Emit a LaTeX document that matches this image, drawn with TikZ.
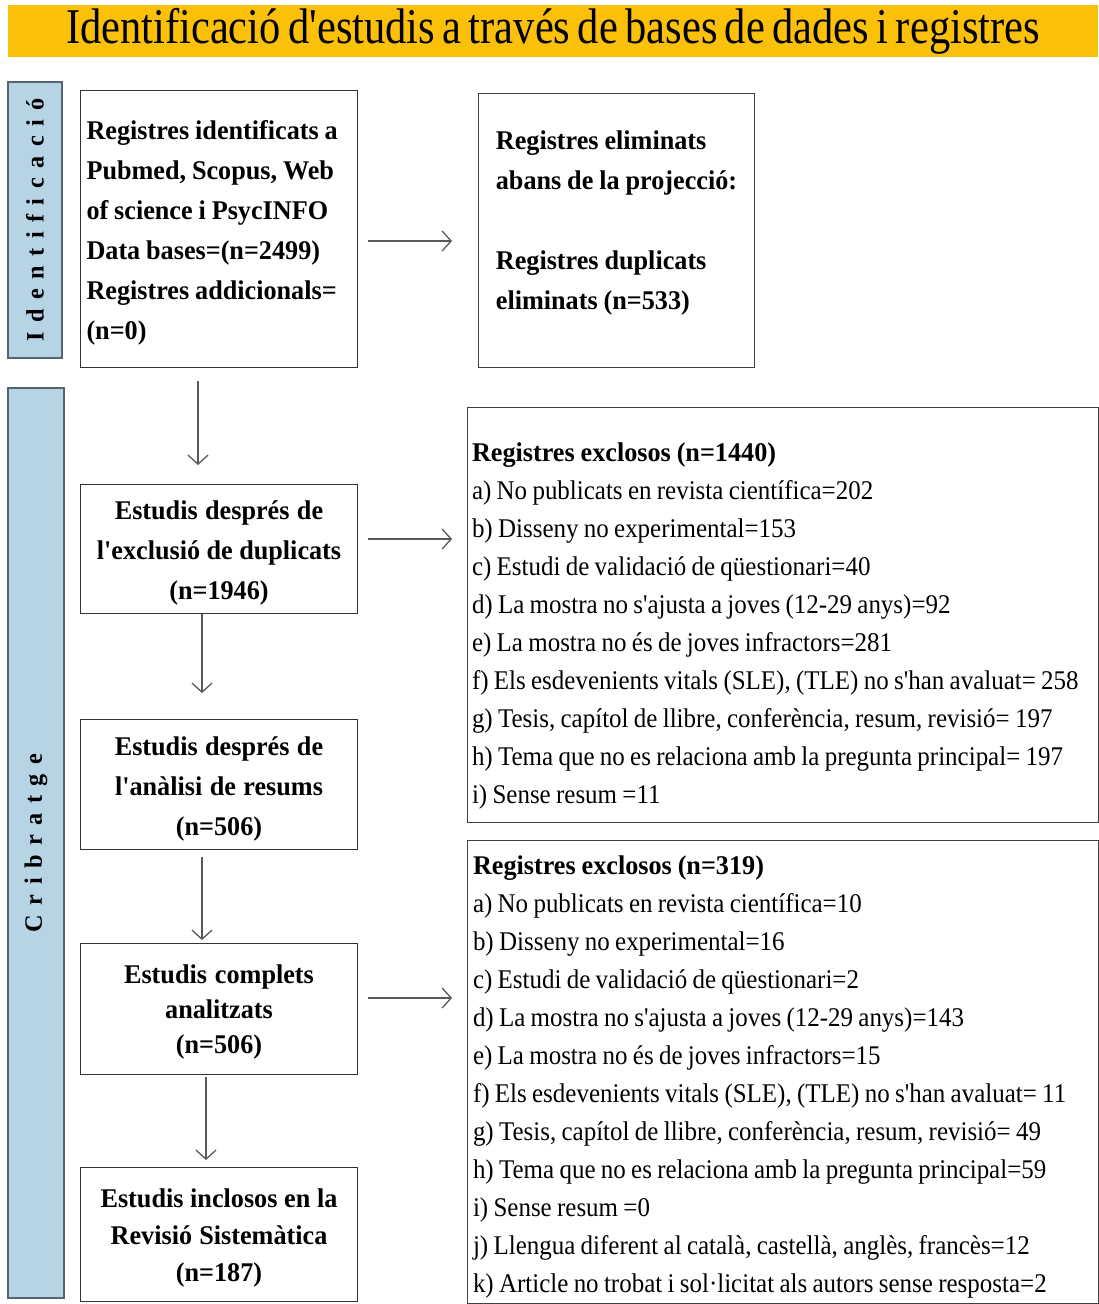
\documentclass[tikz,border=0pt]{standalone}
\usepackage{fontspec}
\setmainfont{Liberation Serif}[Ligatures=TeXOff,FakeStretch=0.925,WordSpace=0.85,
  BoldFeatures={FakeStretch=0.97,WordSpace=0.9}]
\newfontfamily\titlefont{Liberation Serif}[Ligatures=TeXOff,FakeStretch=0.85,WordSpace=0.7]
\usetikzlibrary{arrows.meta}
\definecolor{bannergold}{RGB}{250,192,10}
\definecolor{stagefill}{RGB}{183,212,229}
\definecolor{stageline}{RGB}{85,100,115}
\tikzset{
  stage/.style={draw=stageline,fill=stagefill,line width=1.2pt,inner sep=0pt,rotate=90,
    font=\fontsize{25}{25}\selectfont\bfseries\addfontfeature{LetterSpace=38}},
  flowbox/.style={draw=black!80,line width=1pt,anchor=north west,inner sep=0pt,
    minimum width=277pt,text width=265pt,align=center,font=\fontsize{27}{40}\selectfont\bfseries,
    execute at begin node={\spaceskip=0pt\relax\xspaceskip=0pt\relax}},
  exclbox/.style={draw=black!75,line width=1pt,anchor=north west,inner sep=0pt,
    align=left,font=\fontsize{27}{38}\selectfont,
    execute at begin node={\spaceskip=0pt\relax\xspaceskip=0pt\relax}},
  flowarrow/.style={draw=black!65,line width=1.3pt,-{Straight Barb[length=9pt,width=20pt]}}
}

\begin{document}
\begin{tikzpicture}[x=1pt,y=-1pt]
\useasboundingbox (0,0) rectangle (1098,1304);

% banner and stage bars
\node[fill=bannergold,minimum width=1090pt,minimum height=52pt,inner sep=0pt,
  font=\titlefont\fontsize{50}{50}\selectfont] (title) at (553,31)
  {Identificació d'estudis a través de bases de dades i registres};
\node[stage,minimum width=276pt,minimum height=54pt] (identbar) at (35,220) {Identificació};
\node[stage,minimum width=910pt,minimum height=56pt] (screenbar) at (36,843) {Cribratge};

% left column
\node[flowbox,minimum height=277pt,align=left] (identified) at (80,90)
  {\rule{0pt}{27pt}Registres identificats a\\Pubmed, Scopus, Web\\of science i PsycINFO\\Data bases=(n=2499)\\Registres addicionals=\\(n=0)};
\node[flowbox,minimum height=129pt] (screened) at (80,484)
  {\rule{0pt}{27pt}Estudis després de\\l'exclusió de duplicats\\(n=1946)};
\node[flowbox,minimum height=130pt] (abstracts) at (80,719)
  {\rule{0pt}{28pt}Estudis després de\\l'anàlisi de resums\\(n=506)};
\node[flowbox,minimum height=131pt,font=\fontsize{27}{35}\selectfont\bfseries] (fulltext) at (80,943)
  {\rule{0pt}{25pt}Estudis complets\\analitzats\\(n=506)};
\node[flowbox,minimum height=134pt,font=\fontsize{27}{37}\selectfont\bfseries] (included) at (80,1167)
  {\rule{0pt}{26pt}Estudis inclosos en la\\Revisió Sistemàtica\\(n=187)};

% right column
\node[exclbox,minimum width=276pt,minimum height=274pt,
  font=\fontsize{27}{40}\selectfont\bfseries] (removed) at (478,93)
  {Registres eliminats\\abans de la projecció:\\[40pt]Registres duplicats\\eliminats (n=533)\rule[-21pt]{0pt}{0pt}};
\node[exclbox,minimum width=631pt,minimum height=415pt,text width=622pt] (excluded1) at (467,407)
  {\rule{0pt}{41pt}\textbf{Registres exclosos (n=1440)}\\
   a) No publicats en revista científica=202\\
   b) Disseny no experimental=153\\
   c) Estudi de validació de qüestionari=40\\
   d) La mostra no s'ajusta a joves (12-29 anys)=92\\
   e) La mostra no és de joves infractors=281\\
   f) Els esdevenients vitals (SLE), (TLE) no s'han avaluat= 258\\
   g) Tesis, capítol de llibre, conferència, resum, revisió= 197\\
   h) Tema que no es relaciona amb la pregunta principal= 197\\
   i) Sense resum =11};
\node[exclbox,minimum width=631pt,minimum height=463pt,text width=620pt] (excluded2) at (467,840)
  {\rule{0pt}{29pt}\textbf{Registres exclosos (n=319)}\\
   a) No publicats en revista científica=10\\
   b) Disseny no experimental=16\\
   c) Estudi de validació de qüestionari=2\\
   d) La mostra no s'ajusta a joves (12-29 anys)=143\\
   e) La mostra no és de joves infractors=15\\
   f) Els esdevenients vitals (SLE), (TLE) no s'han avaluat= 11\\
   g) Tesis, capítol de llibre, conferència, resum, revisió= 49\\
   h) Tema que no es relaciona amb la pregunta principal=59\\
   i) Sense resum =0\\
   j) Llengua diferent al català, castellà, anglès, francès=12\\
   k) Article no trobat i sol·licitat als autors sense resposta=2};

% arrows
\draw[flowarrow,shorten <=10pt,shorten >=26pt] ([yshift=-12pt]identified.east) -- ([yshift=-12pt]identified.east -| removed.west);
\draw[flowarrow,shorten <=13pt,shorten >=19pt] ([xshift=-21pt]identified.south) -- ([xshift=-21pt]screened.north);
\draw[flowarrow,shorten <=10pt,shorten >=15pt] ([yshift=10pt]screened.east) -- ([yshift=10pt]screened.east -| excluded1.west);
\draw[flowarrow,shorten >=26pt] ([xshift=-17pt]screened.south) -- ([xshift=-17pt]abstracts.north);
\draw[flowarrow,shorten <=7pt,shorten >=3pt] ([xshift=-17pt]abstracts.south) -- ([xshift=-17pt]fulltext.north);
\draw[flowarrow,shorten <=10pt,shorten >=15pt] ([yshift=11pt]fulltext.east) -- ([yshift=11pt]fulltext.east -| excluded2.west);
\draw[flowarrow,shorten <=2pt,shorten >=7pt] ([xshift=-13pt]fulltext.south) -- ([xshift=-13pt]included.north);

\end{tikzpicture}
\end{document}
